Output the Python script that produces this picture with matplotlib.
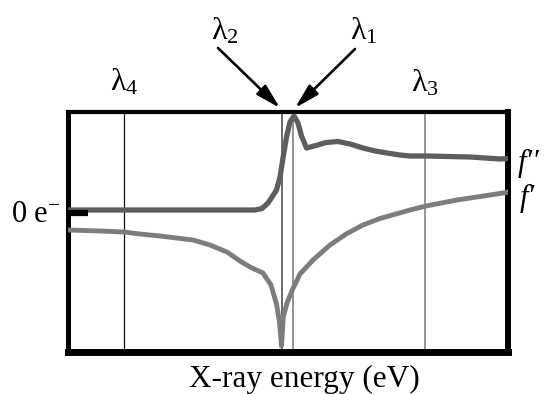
import matplotlib
matplotlib.use("Agg")
import matplotlib.pyplot as plt

plt.rcParams['font.family'] = ['Liberation Serif', 'DejaVu Serif']
plt.rcParams['mathtext.fontset'] = 'custom'
plt.rcParams['mathtext.rm'] = 'Liberation Serif'
plt.rcParams['mathtext.it'] = 'Liberation Serif:italic'

# ---- data (arbitrary energy units; scattering factor in arbitrary units, 0 = 0 e-) ----
energy_f2 = [0, 56, 132, 187, 194, 200, 204, 208.5, 212, 215, 218.5, 222, 226, 230,
             233.5, 238.5, 248, 258, 270, 282, 295, 307, 319, 332, 342, 359, 402, 432, 440.5]
f_double_prime = [0, 0, 0, 0, 0.15, 0.7, 1.3, 2.0, 3.3, 5.2, 7.3, 8.8, 9.4, 8.7,
                  7.4, 6.2, 6.45, 6.75, 6.85, 6.6, 6.2, 5.9, 5.7, 5.5, 5.4, 5.4, 5.3, 5.1, 5.15]

energy_f1 = [0, 32, 56, 72, 92, 125, 142, 159, 172, 182, 195, 203, 208.5, 211.5,
             213.5, 215.3, 219, 224.3, 232, 245, 262, 279, 295, 312, 342, 358, 389, 432, 440.5]
f_prime = [-2.0, -2.1, -2.2, -2.4, -2.6, -3.0, -3.5, -4.2, -5.1, -5.7, -6.3, -7.5, -9.4, -11.2,
           -13.6, -10.7, -9.3, -8.0, -6.4, -5.0, -3.5, -2.35, -1.5, -0.85, 0.0, 0.4, 1.0, 1.65, 1.8]

lambda_names = ['$\\mathrm{λ}_{4}$', '$\\mathrm{λ}_{2}$', '$\\mathrm{λ}_{1}$', '$\\mathrm{λ}_{3}$']
lambda_energy = [55.5, 213.7, 224.5, 357.5]

fig = plt.figure(figsize=(5.47, 3.94), dpi=100)
ax = fig.add_axes([68 / 547, 42.5 / 394, 440.5 / 547, 239.5 / 394])
ax.set_xlim(0, 440.5)
ax.set_ylim(-14.15, 9.8)
ax.set_xticks([])
ax.set_yticks([])

# spines
for side, lw in [('left', 3.6), ('top', 3.0), ('right', 4.3), ('bottom', 5.0)]:
    ax.spines[side].set_linewidth(lw)
    ax.spines[side].set_color('black')

# vertical wavelength lines
line_colors = ['#111111', '#444444', '#777777', '#777777']
line_widths = [0.9, 1.1, 1.1, 1.1]
for e, c, w in zip(lambda_energy, line_colors, line_widths):
    ax.axvline(e, color=c, lw=w, zorder=1)

# curves
ax.plot(energy_f2, f_double_prime, color='#5e5e5e', lw=3.8, solid_capstyle='butt', zorder=3)
ax.plot(energy_f1, f_prime, color='#7d7d7d', lw=3.5, solid_capstyle='butt', zorder=3)

# 0 e- tick
ax.plot([0, 20], [-0.3, -0.3], color='black', lw=4.5, solid_capstyle='butt', zorder=4)
ax.text(-57, -1.2, r'$\mathrm{0\ e}^{-}$', fontsize=22, ha='left', va='baseline', clip_on=False)

# lambda labels
fs_l = 23
ax.text(56, 12.0, lambda_names[0], fontsize=fs_l, ha='center', va='baseline', clip_on=False)
ax.text(157, 17.1, lambda_names[1], fontsize=fs_l, ha='center', va='baseline', clip_on=False)
ax.text(296, 17.1, lambda_names[2], fontsize=fs_l, ha='center', va='baseline', clip_on=False)
ax.text(357, 11.9, lambda_names[3], fontsize=fs_l, ha='center', va='baseline', clip_on=False)

# arrows
astyle = dict(arrowstyle='-|>,head_length=0.75,head_width=0.2', color='black', lw=1.9,
              shrinkA=0, shrinkB=0, mutation_scale=20)
ax.annotate('', xy=(212, 10.2), xytext=(150, 16.2), arrowprops=astyle, annotation_clip=False)
ax.annotate('', xy=(227, 10.2), xytext=(287, 16.1), arrowprops=astyle, annotation_clip=False)

# curve labels
ax.text(450, 3.9, "f\u2032\u2032", fontsize=22, style='italic', ha='left', va='baseline', clip_on=False)
ax.text(452, 0.4, "f\u2032", fontsize=22, style='italic', ha='left', va='baseline', clip_on=False)

# x label
fig.text(304 / 547, 7 / 394, 'X-ray energy (eV)', fontsize=22.5, ha='center', va='baseline')

fig.savefig('out.png', dpi=100)
